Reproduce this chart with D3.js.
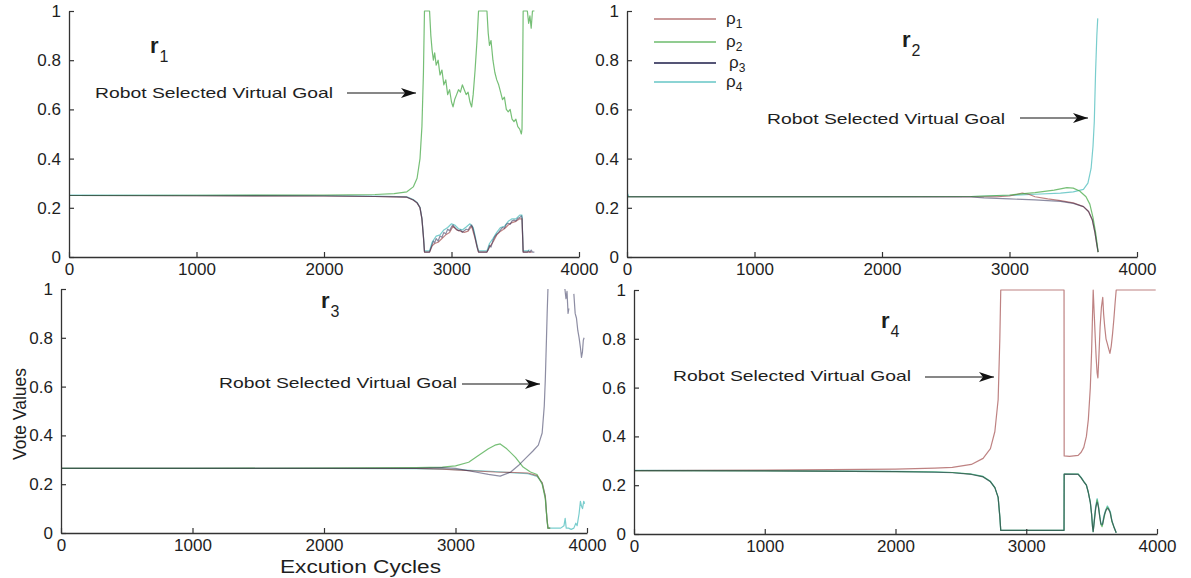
<!DOCTYPE html>
<html>
<head>
<meta charset="utf-8">
<script src="https://cdn.jsdelivr.net/npm/d3@7"></script>
<style>
  body { margin: 0; background: #fff; }
  svg { display: block; }
  text { font-family: "Liberation Sans", Arial, sans-serif; fill: #1e1e1e; }
</style>
</head>
<body>
<svg id="chart" width="1191" height="578"></svg>
<script>
// ---- labels and ticks ----
const xTicks = [0, 1000, 2000, 3000, 4000];
const yTicks = [0, 0.2, 0.4, 0.6, 0.8, 1];
const seriesNames = ["ρ", "ρ", "ρ", "ρ"];
const seriesSubs = ["1", "2", "3", "4"];
const panelNames = ["r", "r", "r", "r"];
const panelSubs = ["1", "2", "3", "4"];
const noteText = "Robot Selected Virtual Goal";
const xLabel = "Excution Cycles";
const yLabel = "Vote Values";

// ---- vote values, [cycle, vote] pairs ----
// robot r1: goal ρ2 wins
const r1_p1 = [[0,0.25],[1000,0.249],[2000,0.248],[2400,0.246],[2650,0.243],[2700,0.232],[2730,0.22],[2753,0.2],[2768,0.155],[2780,0.08],[2788,0.02],[2828,0.02],[2848,0.045],[2868,0.055],[2895,0.06],[2925,0.075],[2955,0.09],[2985,0.1],[3012,0.125],[3040,0.11],[3070,0.105],[3100,0.1],[3130,0.105],[3158,0.125],[3185,0.075],[3212,0.02],[3278,0.02],[3298,0.04],[3325,0.06],[3355,0.09],[3385,0.105],[3415,0.115],[3445,0.13],[3475,0.14],[3505,0.145],[3535,0.155],[3553,0.155],[3558,0.08],[3562,0.02],[3600,0.02],[3630,0.02]];
const r1_p2 = [[0,0.25],[1000,0.251],[2000,0.252],[2400,0.254],[2550,0.258],[2650,0.265],[2700,0.285],[2730,0.32],[2753,0.4],[2768,0.53],[2780,0.75],[2788,1.0],[2828,1.0],[2838,0.9],[2848,0.84],[2858,0.8],[2868,0.83],[2880,0.78],[2895,0.8],[2910,0.74],[2925,0.76],[2940,0.7],[2955,0.72],[2970,0.66],[2985,0.68],[3000,0.63],[3012,0.61],[3025,0.64],[3040,0.66],[3055,0.68],[3070,0.67],[3085,0.7],[3100,0.68],[3115,0.66],[3130,0.67],[3145,0.63],[3158,0.61],[3170,0.66],[3185,0.76],[3200,0.88],[3212,1.0],[3278,1.0],[3288,0.91],[3298,0.86],[3310,0.88],[3325,0.8],[3340,0.75],[3355,0.72],[3370,0.7],[3385,0.67],[3400,0.64],[3415,0.65],[3430,0.6],[3445,0.59],[3460,0.6],[3475,0.56],[3490,0.55],[3505,0.56],[3520,0.53],[3535,0.52],[3548,0.5],[3553,0.52],[3558,0.75],[3562,1.0],[3595,1.0],[3605,0.95],[3615,0.98],[3625,0.93],[3635,1.0],[3650,1.0]];
const r1_p3 = [[0,0.25],[1000,0.249],[2000,0.248],[2400,0.246],[2650,0.243],[2700,0.232],[2730,0.22],[2753,0.2],[2768,0.155],[2780,0.08],[2788,0.02],[2828,0.02],[2838,0.035],[2848,0.05],[2858,0.065],[2868,0.058],[2880,0.075],[2895,0.065],[2910,0.085],[2925,0.08],[2940,0.1],[2955,0.094],[2970,0.113],[2985,0.107],[3000,0.123],[3012,0.13],[3025,0.12],[3040,0.113],[3055,0.107],[3070,0.11],[3085,0.1],[3100,0.107],[3115,0.113],[3130,0.11],[3145,0.123],[3158,0.13],[3170,0.113],[3185,0.08],[3200,0.04],[3212,0.02],[3278,0.02],[3288,0.03],[3298,0.047],[3310,0.04],[3325,0.067],[3340,0.083],[3355,0.093],[3370,0.1],[3385,0.11],[3400,0.12],[3415,0.117],[3430,0.133],[3445,0.137],[3460,0.133],[3475,0.147],[3490,0.15],[3505,0.147],[3520,0.157],[3535,0.16],[3548,0.167],[3553,0.16],[3558,0.083],[3562,0.02],[3595,0.02],[3605,0.025],[3615,0.02],[3625,0.028],[3635,0.02],[3650,0.02]];
const r1_p4 = [[0,0.252],[1000,0.251],[2000,0.25],[2400,0.248],[2650,0.245],[2700,0.234],[2730,0.222],[2753,0.202],[2768,0.158],[2780,0.085],[2788,0.025],[2828,0.025],[2848,0.06],[2880,0.085],[2910,0.09],[2940,0.11],[2970,0.12],[3000,0.135],[3025,0.13],[3055,0.115],[3085,0.11],[3115,0.122],[3145,0.135],[3170,0.12],[3200,0.05],[3212,0.025],[3278,0.025],[3298,0.055],[3325,0.075],[3355,0.1],[3385,0.12],[3415,0.125],[3445,0.145],[3475,0.155],[3505,0.155],[3535,0.17],[3553,0.17],[3558,0.09],[3562,0.025],[3600,0.025],[3611,0.03]];

// robot r2: goal ρ4 wins
const r2_p1 = [[0,0.245],[1000,0.245],[2000,0.245],[2700,0.245],[2900,0.245],[3000,0.248],[3060,0.255],[3100,0.26],[3150,0.255],[3200,0.245],[3300,0.236],[3400,0.229],[3500,0.22],[3580,0.205],[3620,0.185],[3650,0.15],[3670,0.1],[3685,0.05],[3695,0.02]];
const r2_p2 = [[0,0.245],[1000,0.245],[2000,0.245],[2700,0.246],[2800,0.248],[3000,0.252],[3200,0.262],[3350,0.272],[3450,0.282],[3500,0.28],[3550,0.268],[3600,0.245],[3630,0.215],[3655,0.16],[3675,0.1],[3688,0.05],[3695,0.02]];
const r2_p3 = [[0,0.245],[1000,0.245],[2000,0.245],[2700,0.244],[2800,0.24],[3000,0.236],[3200,0.232],[3400,0.226],[3500,0.218],[3580,0.205],[3620,0.185],[3650,0.15],[3670,0.1],[3685,0.05],[3695,0.02]];
const r2_p4 = [[0,0.262],[15,0.245],[1000,0.245],[2000,0.245],[2700,0.246],[3000,0.25],[3200,0.255],[3400,0.26],[3500,0.265],[3580,0.275],[3615,0.3],[3640,0.36],[3655,0.45],[3665,0.55],[3675,0.75],[3685,0.9],[3692,0.97]];

// robot r3: goal ρ3 wins
const r3_p1 = [[0,0.265],[1000,0.265],[2000,0.265],[2700,0.265],[2900,0.262],[3000,0.259],[3150,0.254],[3300,0.25],[3450,0.248],[3550,0.246],[3620,0.235],[3659,0.206],[3683,0.15],[3695,0.06],[3703,0.02],[3720,0.02]];
const r3_p2 = [[0,0.265],[1000,0.265],[2000,0.266],[2700,0.268],[2900,0.27],[3000,0.275],[3100,0.29],[3166,0.315],[3250,0.345],[3300,0.36],[3340,0.365],[3390,0.345],[3456,0.31],[3514,0.27],[3570,0.25],[3620,0.24],[3659,0.2],[3683,0.14],[3695,0.06],[3703,0.02],[3720,0.02]];
const r3_p3 = [[0,0.265],[1000,0.265],[2000,0.265],[2700,0.265],[2900,0.268],[3000,0.265],[3150,0.25],[3250,0.24],[3340,0.233],[3420,0.25],[3485,0.28],[3540,0.31],[3587,0.335],[3630,0.36],[3659,0.41],[3675,0.52],[3683,0.63],[3692,0.8],[3697,0.9],[3703,1.0],[3710,null],[3830,null],[3832,1.0],[3840,0.96],[3848,0.99],[3856,0.9],[3862,0.92],[3868,null],[3898,null],[3900,0.98],[3910,0.9],[3920,0.88],[3930,0.83],[3940,0.8],[3950,0.76],[3958,0.72],[3965,0.74],[3972,0.79],[3978,0.8]];
const r3_p4 = [[0,0.265],[1000,0.265],[2000,0.265],[2700,0.264],[2900,0.262],[3000,0.26],[3150,0.256],[3300,0.252],[3450,0.246],[3550,0.243],[3620,0.232],[3659,0.205],[3683,0.15],[3695,0.06],[3703,0.02],[3760,0.02],[3800,0.02],[3825,0.03],[3834,0.06],[3842,0.02],[3860,0.02],[3880,0.015],[3900,0.02],[3915,0.04],[3925,0.03],[3940,0.08],[3950,0.13],[3958,0.11],[3966,0.1],[3975,0.13],[3982,0.12]];

// robot r4: goal ρ1 wins
const r4_p1 = [[0,0.26],[1000,0.262],[2000,0.266],[2300,0.27],[2435,0.273],[2580,0.285],[2670,0.31],[2726,0.35],[2760,0.42],[2785,0.55],[2798,0.8],[2805,1.0],[3289,1.0],[3290,0.32],[3330,0.318],[3397,0.322],[3420,0.335],[3440,0.355],[3460,0.4],[3475,0.47],[3490,0.6],[3500,0.75],[3507,0.9],[3512,1.0],[3520,0.9],[3528,0.8],[3535,0.72],[3542,0.66],[3548,0.64],[3555,0.72],[3565,0.85],[3575,0.93],[3585,0.97],[3592,0.9],[3600,0.85],[3610,0.8],[3620,0.78],[3630,0.76],[3640,0.74],[3650,0.77],[3660,0.82],[3670,0.88],[3680,0.95],[3688,1.0],[3990,1.0]];
const r4_p2 = [[0,0.26],[1000,0.259],[2000,0.256],[2300,0.254],[2435,0.252],[2580,0.245],[2670,0.235],[2726,0.215],[2760,0.19],[2785,0.15],[2798,0.07],[2805,0.015],[3289,0.015],[3290,0.245],[3397,0.245],[3420,0.23],[3440,0.215],[3460,0.2],[3475,0.17],[3490,0.13],[3500,0.08],[3507,0.03],[3512,0.01],[3520,0.05],[3530,0.1],[3542,0.14],[3550,0.12],[3560,0.08],[3570,0.04],[3580,0.03],[3592,0.06],[3605,0.09],[3620,0.11],[3632,0.1],[3644,0.085],[3655,0.05],[3670,0.03],[3688,0.005]];
const r4_p3 = [[0,0.26],[1000,0.259],[2000,0.256],[2300,0.253],[2435,0.251],[2580,0.244],[2670,0.234],[2726,0.214],[2760,0.19],[2785,0.15],[2798,0.07],[2805,0.015],[3289,0.015],[3290,0.245],[3397,0.244],[3420,0.23],[3440,0.214],[3460,0.2],[3475,0.17],[3490,0.13],[3500,0.08],[3507,0.03],[3512,0.01],[3522,0.06],[3532,0.11],[3542,0.13],[3552,0.11],[3562,0.07],[3572,0.04],[3585,0.04],[3598,0.08],[3612,0.1],[3625,0.105],[3640,0.09],[3655,0.055],[3670,0.03],[3688,0.005]];
const r4_p4 = [[0,0.261],[1000,0.26],[2000,0.257],[2300,0.255],[2435,0.252],[2580,0.246],[2670,0.236],[2726,0.216],[2760,0.19],[2785,0.15],[2798,0.07],[2805,0.015],[3289,0.015],[3290,0.246],[3397,0.246],[3420,0.232],[3440,0.216],[3460,0.2],[3475,0.17],[3490,0.13],[3500,0.08],[3507,0.03],[3512,0.01],[3520,0.06],[3530,0.11],[3542,0.145],[3550,0.125],[3560,0.085],[3570,0.045],[3580,0.035],[3592,0.07],[3605,0.095],[3620,0.115],[3632,0.105],[3644,0.09],[3655,0.055],[3670,0.03],[3688,0.005]];

const panelSeries = [
  [r1_p1, r1_p2, r1_p3, r1_p4],
  [r2_p1, r2_p2, r2_p3, r2_p4],
  [r3_p1, r3_p2, r3_p3, r3_p4],
  [r4_p1, r4_p2, r4_p3, r4_p4]
];

// ---- layout ----
const W = 1191, H = 578;
const boxes = [
  { l: 69,  r: 579,  t: 11,  b: 257 },
  { l: 627, r: 1137, t: 11,  b: 257 },
  { l: 61,  r: 587,  t: 289, b: 533 },
  { l: 634, r: 1157, t: 290, b: 534 }
];
const tagPos = [ { x: 150, y: 53 }, { x: 902, y: 47 }, { x: 321, y: 308 }, { x: 881, y: 328 } ];
const notePos = [
  { tx: 95,  ty: 98,  x1: 347,  x2: 416,  ay: 93 },
  { tx: 767, ty: 124, x1: 1020, x2: 1088, ay: 118 },
  { tx: 219, ty: 388, x1: 462,  x2: 540,  ay: 384 },
  { tx: 673, ty: 381, x1: 925,  x2: 994,  ay: 377 }
];
const noteWidth = 238;
// muted line colours; the navy line is drawn last and lighter so overlaps read grey
const colors = ["#a85858", "#48aa48", "#1c1c48", "#40b8b8"];
const opacities = [0.75, 0.75, 0.5, 0.7];
const drawOrder = [3, 0, 1, 2];
const legendRows = [19, 42, 63, 82];

const svg = d3.select("#chart");
svg.append("rect").attr("width", W).attr("height", H).attr("fill", "#fff");

const defs = svg.append("defs");
defs.append("marker")
  .attr("id", "arrowhead")
  .attr("markerUnits", "userSpaceOnUse")
  .attr("markerWidth", 16).attr("markerHeight", 10)
  .attr("refX", 15).attr("refY", 5)
  .attr("orient", "auto")
  .append("path")
  .attr("d", "M0,0 L15,5 L0,10 L4,5 Z")
  .attr("fill", "#111");

boxes.forEach((b, i) => {
  const x = d3.scaleLinear().domain([0, 4000]).range([b.l, b.r]);
  const y = d3.scaleLinear().domain([0, 1]).range([b.b, b.t]);
  const g = svg.append("g");

  defs.append("clipPath").attr("id", "plot" + i)
    .append("rect")
    .attr("x", b.l).attr("y", b.t - 1)
    .attr("width", b.r - b.l).attr("height", b.b - b.t + 1);

  const line = d3.line()
    .defined(d => d[1] !== null)
    .x(d => x(d[0]))
    .y(d => y(d[1]));

  const lines = g.append("g").attr("clip-path", `url(#plot${i})`);
  drawOrder.forEach(k => {
    lines.append("path")
      .attr("d", line(panelSeries[i][k]))
      .attr("fill", "none")
      .attr("stroke", colors[k])
      .attr("stroke-width", 1.2)
      .attr("stroke-opacity", opacities[k])
      .attr("stroke-linejoin", "round");
  });

  // axes with inward ticks
  const xa = g.append("g")
    .attr("transform", `translate(0,${b.b})`)
    .call(d3.axisBottom(x).tickValues(xTicks).tickSizeInner(-5).tickSizeOuter(0).tickPadding(6).tickFormat(d => String(d)));
  const ya = g.append("g")
    .attr("transform", `translate(${b.l},0)`)
    .call(d3.axisLeft(y).tickValues(yTicks).tickSizeInner(-5).tickSizeOuter(0).tickPadding(8).tickFormat(d => String(d)));
  [xa, ya].forEach(a => {
    a.attr("font-family", null).attr("font-size", null);
    a.select(".domain").attr("stroke", "#333").attr("stroke-width", 1.3);
    a.selectAll(".tick line").attr("stroke", "#333").attr("stroke-width", 1.2);
    a.selectAll(".tick text").attr("font-size", 17).attr("fill", "#222");
  });

  // panel tag r_i
  const tag = g.append("text").attr("x", tagPos[i].x).attr("y", tagPos[i].y);
  tag.append("tspan").attr("font-size", 22).attr("font-weight", "bold").text(panelNames[i]);
  tag.append("tspan").attr("font-size", 16).attr("dx", 1).attr("dy", 9).text(panelSubs[i]);

  // annotation with arrow
  const n = notePos[i];
  g.append("text")
    .attr("x", n.tx).attr("y", n.ty)
    .attr("font-size", 15)
    .attr("textLength", noteWidth)
    .attr("lengthAdjust", "spacingAndGlyphs")
    .text(noteText);
  g.append("line")
    .attr("x1", n.x1).attr("x2", n.x2)
    .attr("y1", n.ay).attr("y2", n.ay)
    .attr("stroke", "#111").attr("stroke-width", 1.2)
    .attr("marker-end", "url(#arrowhead)");
});

// legend in the r2 panel
const leg = svg.append("g");
legendRows.forEach((ly, k) => {
  leg.append("line")
    .attr("x1", 654).attr("x2", 716).attr("y1", ly).attr("y2", ly)
    .attr("stroke", colors[k]).attr("stroke-width", 1.4)
    .attr("stroke-opacity", k === 2 ? 1 : 0.8);
  const t = leg.append("text").attr("x", k === 2 ? 729 : 726).attr("y", ly + 5);
  t.append("tspan").attr("font-size", 17).text(seriesNames[k]);
  t.append("tspan").attr("font-size", 12).attr("dy", 4).text(seriesSubs[k]);
});

// axis titles
svg.append("text")
  .attr("transform", "translate(26,414) rotate(-90)")
  .attr("text-anchor", "middle")
  .attr("font-size", 18)
  .attr("textLength", 92)
  .attr("lengthAdjust", "spacingAndGlyphs")
  .text(yLabel);
svg.append("text")
  .attr("x", 280).attr("y", 573)
  .attr("font-size", 18)
  .attr("textLength", 161)
  .attr("lengthAdjust", "spacingAndGlyphs")
  .text(xLabel);
</script>
</body>
</html>
